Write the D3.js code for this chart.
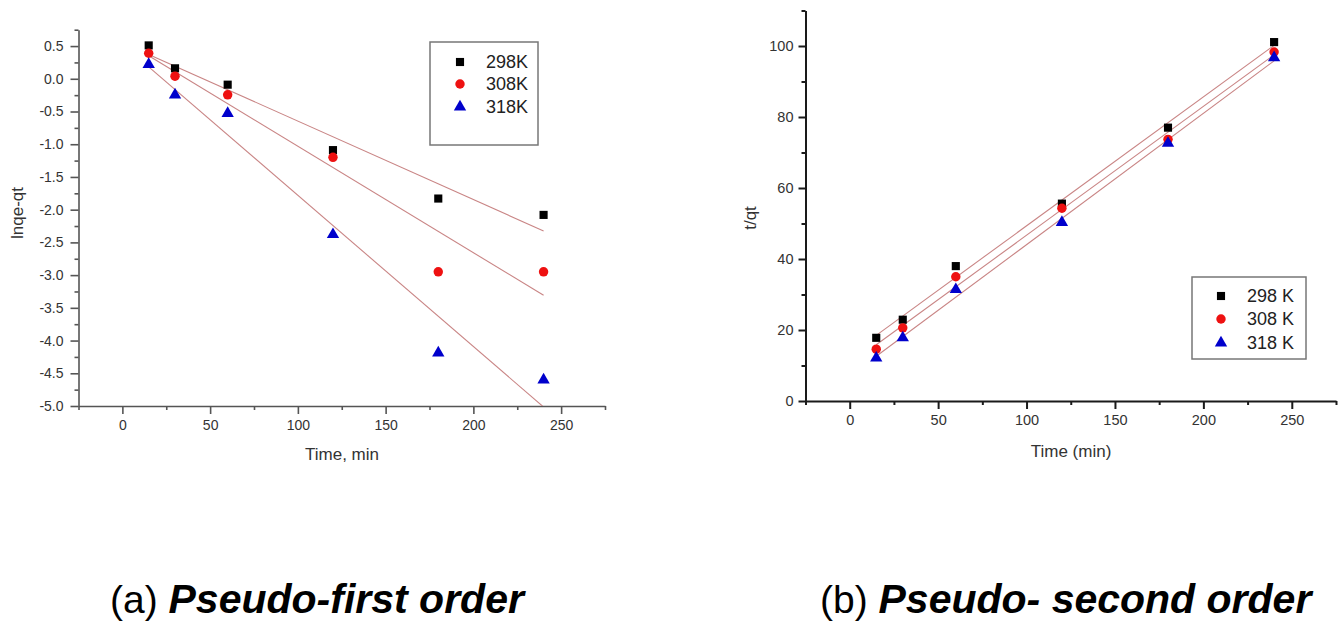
<!DOCTYPE html>
<html>
<head>
<meta charset="utf-8">
<script src="https://cdn.jsdelivr.net/npm/d3@7"></script>
<style>
  html, body { margin: 0; padding: 0; background: #fff; }
  svg { display: block; font-family: "Liberation Sans", Arial, sans-serif; }
</style>
</head>
<body>
<svg id="chart" width="1341" height="626"></svg>
<script>
// Sampling times (min)
const times = [15, 30, 60, 120, 180, 240];

// Pseudo-first order: ln(qe - qt)
const lnq298 = [0.51, 0.16, -0.09, -1.09, -1.83, -2.08];
const lnq308 = [0.39, 0.04, -0.245, -1.20, -2.95, -2.95];
const lnq318 = [0.22, -0.245, -0.53, -2.38, -4.19, -4.60];

// Pseudo-second order: t / qt
const tq298 = [17.8, 22.9, 38.0, 55.6, 77.0, 101.1];
const tq308 = [14.6, 20.6, 35.0, 54.3, 73.7, 98.3];
const tq318 = [12.1, 17.8, 31.4, 50.3, 72.6, 96.7];

// Legend labels and tick values
const firstLegend = ["298K", "308K", "318K"];
const secondLegend = ["298 K", "308 K", "318 K"];
const timeTicks = [0, 50, 100, 150, 200, 250];
const timeMinorTicks = [-25, 25, 75, 125, 175, 225, 275];
const firstYTicks = [-5.0, -4.5, -4.0, -3.5, -3.0, -2.5, -2.0, -1.5, -1.0, -0.5, 0.0, 0.5];
const firstYMinorTicks = [-4.75, -4.25, -3.75, -3.25, -2.75, -2.25, -1.75, -1.25, -0.75, -0.25, 0.25, 0.75];
const secondYTicks = [0, 20, 40, 60, 80, 100];
const secondYMinorTicks = [10, 30, 50, 70, 90, 110];

const markerColors = ["#000000", "#ee1111", "#0000cc"];
const markerShapes = [d3.symbolSquare, d3.symbolCircle, d3.symbolTriangle];
const markerSizes = [66, 70, 66];
const fitColor = "#c98585";

const svg = d3.select("#chart");

// Least-squares straight line through a series
function linearFit(xs, ys) {
  const mx = d3.mean(xs), my = d3.mean(ys);
  let sxy = 0, sxx = 0;
  xs.forEach((x, i) => { sxy += (x - mx) * (ys[i] - my); sxx += (x - mx) * (x - mx); });
  const slope = sxy / sxx;
  return { slope, intercept: my - slope * mx };
}

function drawPanel(cfg) {
  const g = svg.append("g");
  const x = d3.scaleLinear().domain([-25, 275]).range(cfg.xRange);
  const y = d3.scaleLinear().domain(cfg.yDomain).range(cfg.yRange);

  const clipId = "clip-" + cfg.id;
  g.append("clipPath").attr("id", clipId)
    .append("rect")
    .attr("x", cfg.xRange[0]).attr("y", cfg.yRange[1])
    .attr("width", cfg.xRange[1] - cfg.xRange[0])
    .attr("height", cfg.yRange[0] - cfg.yRange[1]);

  // minor ticks
  g.append("g")
    .attr("transform", `translate(0,${cfg.yRange[0]})`)
    .call(d3.axisBottom(x).tickValues(timeMinorTicks).tickSize(4).tickSizeOuter(0).tickFormat(""))
    .call(a => a.select(".domain").remove())
    .call(a => a.selectAll("line").attr("stroke", cfg.axisColor).attr("stroke-width", cfg.axisWidth));
  g.append("g")
    .attr("transform", `translate(${cfg.xRange[0]},0)`)
    .call(d3.axisLeft(y).tickValues(cfg.yMinor).tickSize(4).tickSizeOuter(0).tickFormat(""))
    .call(a => a.select(".domain").remove())
    .call(a => a.selectAll("line").attr("stroke", cfg.axisColor).attr("stroke-width", cfg.axisWidth));

  // major axes
  const xAxis = g.append("g")
    .attr("transform", `translate(0,${cfg.yRange[0]})`)
    .call(d3.axisBottom(x).tickValues(timeTicks).tickSize(8).tickSizeOuter(0).tickPadding(6));
  const yAxis = g.append("g")
    .attr("transform", `translate(${cfg.xRange[0]},0)`)
    .call(d3.axisLeft(y).tickValues(cfg.yTicks).tickSize(cfg.yTickSize).tickSizeOuter(0)
      .tickPadding(cfg.yPad).tickFormat(cfg.yFormat));
  [xAxis, yAxis].forEach(a => {
    a.select(".domain").attr("stroke", cfg.axisColor).attr("stroke-width", cfg.axisWidth);
    a.selectAll("line").attr("stroke", cfg.axisColor).attr("stroke-width", cfg.axisWidth);
    a.selectAll("text").attr("fill", "#333").style("font-size", cfg.tickFont + "px")
      .style("font-family", "'Liberation Sans', Arial, sans-serif");
  });

  // axis titles
  g.append("text")
    .attr("x", cfg.xTitlePos[0]).attr("y", cfg.xTitlePos[1])
    .attr("text-anchor", "middle").attr("dominant-baseline", "central")
    .attr("fill", "#333").style("font-size", "17px")
    .text(cfg.xTitle);
  g.append("text")
    .attr("transform", `translate(${cfg.yTitlePos[0]},${cfg.yTitlePos[1]}) rotate(-90)`)
    .attr("text-anchor", "middle").attr("dominant-baseline", "central")
    .attr("fill", "#333").style("font-size", "17px")
    .text(cfg.yTitle);

  // fitted lines
  const fits = g.append("g").attr("clip-path", `url(#${clipId})`);
  cfg.series.forEach(s => {
    const f = linearFit(times, s);
    const x0 = times[0], x1 = times[times.length - 1];
    fits.append("line")
      .attr("x1", x(x0)).attr("y1", y(f.intercept + f.slope * x0))
      .attr("x2", x(x1)).attr("y2", y(f.intercept + f.slope * x1))
      .attr("stroke", fitColor).attr("stroke-width", 1.1);
  });

  // data markers
  cfg.series.forEach((s, i) => {
    g.append("g").selectAll("path")
      .data(times.map((t, j) => [t, s[j]]))
      .join("path")
      .attr("transform", d => `translate(${x(d[0])},${y(d[1])})`)
      .attr("d", d3.symbol().type(markerShapes[i]).size(markerSizes[i]))
      .attr("fill", markerColors[i]);
  });

  // legend
  const L = cfg.legend;
  g.append("rect")
    .attr("x", L.box[0]).attr("y", L.box[1])
    .attr("width", L.box[2]).attr("height", L.box[3])
    .attr("fill", "#fff").attr("stroke", "#777").attr("stroke-width", 1.5);
  L.labels.forEach((lab, i) => {
    const ry = L.rows[i];
    g.append("path")
      .attr("transform", `translate(${L.symX},${ry})`)
      .attr("d", d3.symbol().type(markerShapes[i]).size(markerSizes[i]))
      .attr("fill", markerColors[i]);
    g.append("text")
      .attr("x", L.textX).attr("y", ry)
      .attr("dominant-baseline", "central")
      .attr("fill", "#222").style("font-size", "18px")
      .text(lab);
  });

  // panel caption
  const cap = g.append("text")
    .attr("x", cfg.caption.x).attr("y", 613)
    .attr("fill", "#000");
  cap.append("tspan").style("font-size", "39px").text(cfg.caption.tag + " ");
  cap.append("tspan").style("font-size", "41px").style("font-weight", "bold")
    .style("font-style", "italic").text(cfg.caption.title);
}

drawPanel({
  id: "first",
  xRange: [78.5, 605],
  yDomain: [-5, 0.75],
  yRange: [406, 29.7],
  yTicks: firstYTicks,
  yMinor: firstYMinorTicks,
  yFormat: d => d.toFixed(1),
  yTickSize: 8,
  yPad: 7,
  tickFont: 14,
  axisColor: "#555",
  axisWidth: 1.6,
  xTitle: "Time, min",
  xTitlePos: [342, 454],
  yTitle: "lnqe-qt",
  yTitlePos: [17, 213],
  series: [lnq298, lnq308, lnq318],
  legend: { box: [430, 42, 108, 103], symX: 460, textX: 486, rows: [62, 84, 107], labels: firstLegend },
  caption: { x: 110, tag: "(a)", title: "Pseudo-first order" }
});

drawPanel({
  id: "second",
  xRange: [805.5, 1336],
  yDomain: [0, 110],
  yRange: [401, 10.5],
  yTicks: secondYTicks,
  yMinor: secondYMinorTicks,
  yFormat: d3.format("d"),
  yTickSize: 7,
  yPad: 5,
  tickFont: 14.5,
  axisColor: "#1a1a1a",
  axisWidth: 2,
  xTitle: "Time (min)",
  xTitlePos: [1071, 451],
  yTitle: "t/qt",
  yTitlePos: [750, 218],
  series: [tq298, tq308, tq318],
  legend: { box: [1192, 277, 114, 82], symX: 1221, textX: 1247, rows: [296, 319, 343], labels: secondLegend },
  caption: { x: 820, tag: "(b)", title: "Pseudo- second order" }
});
</script>
</body>
</html>
